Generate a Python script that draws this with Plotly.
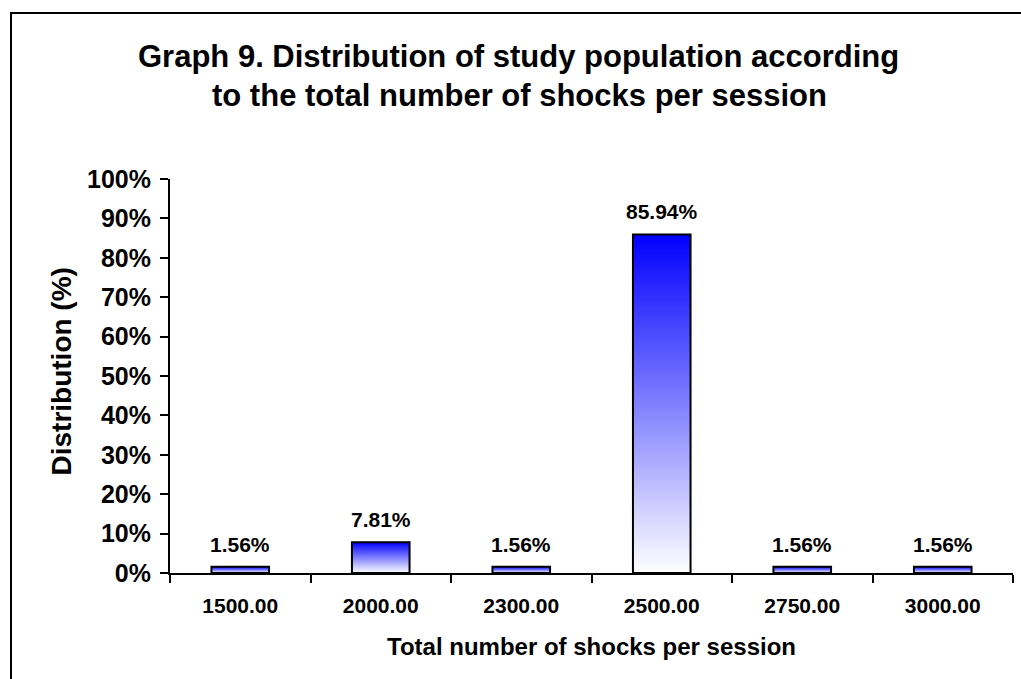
import plotly.graph_objects as go

# Distribution of the study population by total shocks per session
shock_labels = ["1500.00", "2000.00", "2300.00", "2500.00", "2750.00", "3000.00"]
share_pct = [1.56, 7.81, 1.56, 85.94, 1.56, 1.56]
y_ticks = list(range(0, 101, 10))
y_tick_text = [f"{t}%" for t in y_ticks]

FONT = "Liberation Sans, Arial, sans-serif"
BAR_WIDTH = 0.41

fig = go.Figure()

# Each column is a closed outline filled with a blue-to-white vertical gradient
for i, v in enumerate(share_pct):
    x0, x1 = i - BAR_WIDTH / 2, i + BAR_WIDTH / 2
    fig.add_trace(go.Scatter(
        x=[x0, x1, x1, x0, x0],
        y=[0, 0, v, v, 0],
        mode="lines",
        fill="toself",
        fillgradient=dict(type="vertical",
                          colorscale=[[0, "#FFFFFF"], [1, "#0000FF"]]),
        line=dict(color="black", width=2),
        hoverinfo="skip",
        showlegend=False,
    ))
    fig.add_annotation(
        x=i, y=v, xref="x", yref="y",
        text=f"{v:.2f}%", showarrow=False,
        yanchor="bottom", yshift=9,
        font=dict(family=FONT, size=21, color="black", weight="bold"),
    )

# Two-line title
fig.add_annotation(
    x=(518 - 170) / 843, y=(573 - 56) / 394, xref="paper", yref="paper",
    text="Graph 9. Distribution of study population according",
    showarrow=False, xanchor="center", yanchor="middle",
    font=dict(family=FONT, size=31, color="black", weight="bold"),
)
fig.add_annotation(
    x=(519 - 170) / 843, y=(573 - 95) / 394, xref="paper", yref="paper",
    text="to the total number of shocks per session",
    showarrow=False, xanchor="center", yanchor="middle",
    font=dict(family=FONT, size=31, color="black", weight="bold"),
)

# Axis titles
fig.add_annotation(
    x=(61 - 170) / 843, y=(573 - 371.5) / 394, xref="paper", yref="paper",
    text="Distribution (%)", textangle=-90, showarrow=False,
    xanchor="center", yanchor="middle",
    font=dict(family=FONT, size=28, color="black", weight="bold"),
)
fig.add_annotation(
    x=0.5, y=(573 - 646) / 394, xref="paper", yref="paper",
    text="Total number of shocks per session", showarrow=False,
    xanchor="center", yanchor="middle",
    font=dict(family=FONT, size=24, color="black", weight="bold"),
)

# Outer frame around the chart
fig.add_shape(
    type="rect", xref="paper", yref="paper",
    x0=(11 - 170) / 843, x1=(1040 - 170) / 843,
    y0=(573 - 700) / 394, y1=(573 - 13) / 394,
    line=dict(color="black", width=2), fillcolor="rgba(0,0,0,0)",
)

fig.update_xaxes(
    range=[-0.5, len(shock_labels) - 0.5],
    tickmode="array", tickvals=list(range(len(shock_labels))), ticktext=shock_labels,
    ticks="", ticklabelstandoff=13,
    minor=dict(tickmode="array",
               tickvals=[i - 0.5 for i in range(len(shock_labels) + 1)],
               ticks="outside", ticklen=8, tickwidth=2, tickcolor="black", showgrid=False),
    showline=True, linecolor="black", linewidth=2,
    showgrid=False, zeroline=False,
    tickfont=dict(family=FONT, size=21, color="black", weight="bold"),
)
fig.update_yaxes(
    range=[0, 100],
    tickmode="array", tickvals=y_ticks, ticktext=y_tick_text,
    ticks="outside", ticklen=8, tickwidth=2, tickcolor="black",
    ticklabelstandoff=4,
    showline=True, linecolor="black", linewidth=2,
    showgrid=False, zeroline=False,
    tickfont=dict(family=FONT, size=25, color="black", weight="bold"),
)

fig.update_layout(
    width=1021, height=679,
    margin=dict(l=170, r=8, t=179, b=106),
    paper_bgcolor="white", plot_bgcolor="white",
    showlegend=False,
)

fig.write_html("out.html")
